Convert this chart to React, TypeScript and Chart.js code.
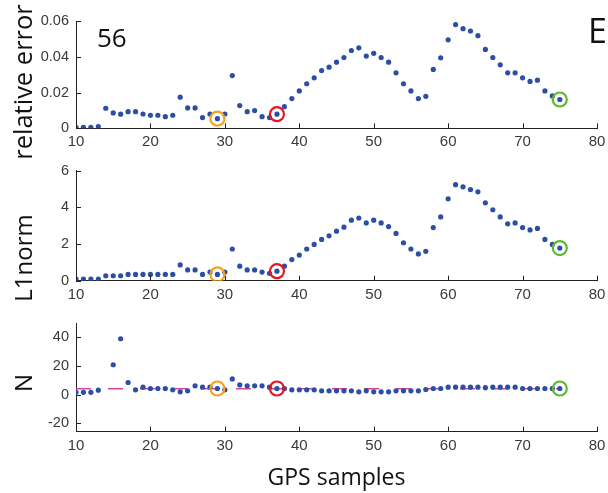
import React, { useEffect, useRef } from "react";
import { Chart, registerables } from "chart.js";
Chart.register(...registerables);

// ---------- data ----------
const samples = [
  10, 11, 12, 13, 14, 15, 16, 17, 18, 19, 20, 21, 22, 23, 24, 25, 26, 27, 28, 29, 30, 31, 32,
  33, 34, 35, 36, 37, 38, 39, 40, 41, 42, 43, 44, 45, 46, 47, 48, 49, 50, 51, 52, 53, 54, 55,
  56, 57, 58, 59, 60, 61, 62, 63, 64, 65, 66, 67, 68, 69, 70, 71, 72, 73, 74, 75,
];

const relativeError = [
  0.0006, 0.0006, 0.0006, 0.001, 0.0112, 0.0086, 0.0079, 0.0093, 0.0093, 0.008, 0.0073,
  0.0073, 0.0065, 0.0073, 0.0174, 0.0114, 0.0114, 0.006, 0.008, 0.0054, 0.008, 0.0295,
  0.0127, 0.0093, 0.0099, 0.0065, 0.006, 0.0079, 0.0121, 0.0166, 0.0209, 0.0249, 0.0282,
  0.0323, 0.0342, 0.037, 0.0396, 0.0435, 0.045, 0.0404, 0.0419, 0.0396, 0.037, 0.031,
  0.0249, 0.0209, 0.0166, 0.0179, 0.0329, 0.0394, 0.0495, 0.058, 0.0557, 0.0544, 0.0518,
  0.0441, 0.0396, 0.0355, 0.031, 0.031, 0.0282, 0.0262, 0.0269, 0.0209, 0.0181, 0.0161,
];

const l1Norm = [
  0.09, 0.09, 0.09, 0.09, 0.27, 0.27, 0.27, 0.34, 0.34, 0.34, 0.34, 0.34, 0.34, 0.34, 0.86,
  0.59, 0.59, 0.34, 0.47, 0.34, 0.47, 1.73, 0.79, 0.59, 0.59, 0.47, 0.4, 0.52, 0.79, 1.15,
  1.4, 1.73, 1.98, 2.25, 2.45, 2.7, 2.92, 3.3, 3.42, 3.15, 3.3, 3.15, 2.95, 2.58, 2.07, 1.73,
  1.46, 1.6, 2.9, 3.48, 4.47, 5.24, 5.12, 4.97, 4.85, 4.25, 3.87, 3.48, 3.1, 3.15, 2.9, 2.77,
  2.85, 2.25, 1.98, 1.78,
];

const nValues: (number | null)[] = [
  1.5, 1.5, 1.5, 3, null, 20.8, 39, 8.4, 3.3, 5.1, 4.2, 4.2, 4.2, 3.3, 1.9, 2.6, 6.1, 5.1,
  5.1, 4.2, 3.3, 10.9, 6.7, 6.1, 6.1, 6.1, 5.1, 4.2, 4.2, 3.3, 3.3, 3.3, 3.3, 2.6, 2.6, 2.6,
  2.6, 2.6, 1.9, 2.6, 1.9, 1.9, 1.9, 2.6, 2.6, 2.6, 2.6, 3.5, 4.2, 4.2, 5.1, 5.1, 5.1, 5.1,
  5.1, 4.8, 5.1, 5.1, 5.1, 5.1, 4.2, 4.2, 4.2, 4.2, 4.2, 4.2,
];

const nReferenceLevel = 4;

const xTickValues = [10, 20, 30, 40, 50, 60, 70, 80];
const relErrTicks = [0, 0.02, 0.04, 0.06];
const l1Ticks = [0, 2, 4, 6];
const nTicks = [-20, 0, 20, 40];

const highlightSamples = [29, 37, 75];
const highlightColors = ["#f7a01c", "#e8141e", "#5cbb2d"];

// ---------- layout / style ----------
const W = 625;
const H = 493;
const AXIS_RIGHT = 597;
const Y_AXIS_W = 76;
const X_AXIS_H = 30;
const DOT = "#2c4fa6";
const TICK_FAMILY = "'Liberation Sans', Arial, Helvetica, sans-serif";
const TEXT_FAMILY = "'Open Sans', 'Noto Sans', sans-serif";

type Txt = {
  text: string;
  x: number | "center";
  y: number;
  size: number;
  rotate?: boolean;
  align?: CanvasTextAlign;
};

type PanelSpec = {
  series: (number | null)[];
  yMin: number;
  yMax: number;
  yTicks: number[];
  top: number;
  bottom: number;
  texts: Txt[];
  ref?: number;
};

const panels: PanelSpec[] = [
  {
    series: relativeError,
    yMin: 0,
    yMax: 0.06,
    yTicks: relErrTicks,
    top: 21,
    bottom: 128.3,
    texts: [
      { text: "relative error", x: 32, y: 82, size: 25.5, rotate: true },
      { text: "56", x: 97, y: 47, size: 26, align: "left" },
      { text: "E", x: 588, y: 43, size: 34, align: "left" },
    ],
  },
  {
    series: l1Norm,
    yMin: 0,
    yMax: 6,
    yTicks: l1Ticks,
    top: 170.7,
    bottom: 280.7,
    texts: [{ text: "L1norm", x: 32, y: 258, size: 24, rotate: true }],
  },
  {
    series: nValues,
    yMin: -26,
    yMax: 50,
    yTicks: nTicks,
    top: 323,
    bottom: 431.7,
    ref: nReferenceLevel,
    texts: [
      { text: "N", x: 32, y: 383, size: 24, rotate: true },
      { text: "GPS samples", x: "center", y: 485, size: 23 },
    ],
  },
];

const decorPlugin = {
  id: "decor",
  afterDraw(chart: any, _args: any, opts: any) {
    const { ctx, chartArea: a, scales } = chart;
    ctx.save();
    ctx.strokeStyle = "#222";
    ctx.lineWidth = 1;
    ctx.beginPath();
    for (const v of xTickValues) {
      const px = Math.round(scales.x.getPixelForValue(v)) + 0.5;
      ctx.moveTo(px, a.bottom);
      ctx.lineTo(px, a.bottom - 5);
    }
    for (const v of opts.yTicks as number[]) {
      const py = Math.round(scales.y.getPixelForValue(v)) + 0.5;
      ctx.moveTo(a.left, py);
      ctx.lineTo(a.left + 5, py);
    }
    ctx.stroke();
    ctx.fillStyle = "#111";
    for (const t of opts.texts as Txt[]) {
      ctx.font = `${t.size}px ${TEXT_FAMILY}`;
      ctx.textBaseline = "alphabetic";
      const x = t.x === "center" ? (a.left + a.right) / 2 : t.x;
      if (t.rotate) {
        ctx.save();
        ctx.translate(x, t.y);
        ctx.rotate(-Math.PI / 2);
        ctx.textAlign = "center";
        ctx.fillText(t.text, 0, 0);
        ctx.restore();
      } else {
        ctx.textAlign = t.align || "center";
        ctx.fillText(t.text, x, t.y);
      }
    }
    ctx.restore();
  },
};

function buildChart(canvas: HTMLCanvasElement, p: PanelSpec) {
  const pts = samples.map((s, i) => ({ x: s, y: p.series[i] }));
  const hl = highlightSamples.map((s) => ({ x: s, y: p.series[samples.indexOf(s)] }));
  const datasets: any[] = [
    {
      data: hl,
      showLine: false,
      pointRadius: 7,
      pointBorderWidth: 2.2,
      pointBackgroundColor: "rgba(0,0,0,0)",
      pointBorderColor: highlightColors,
    },
    {
      data: pts,
      showLine: false,
      pointRadius: 2.6,
      pointBorderWidth: 0,
      pointBackgroundColor: DOT,
      pointBorderColor: DOT,
    },
  ];
  if (p.ref !== undefined) {
    datasets.push({
      type: "line",
      data: [
        { x: samples[0], y: p.ref },
        { x: samples[samples.length - 1], y: p.ref },
      ],
      showLine: true,
      borderColor: "#d6449c",
      borderWidth: 1.5,
      borderDash: [15, 17],
      pointRadius: 0,
      fill: false,
    });
  }
  return new Chart(canvas, {
    type: "scatter",
    data: { datasets },
    plugins: [decorPlugin],
    options: {
      responsive: false,
      animation: false,
      events: [],
      layout: {
        padding: { left: 0, right: W - AXIS_RIGHT, top: p.top, bottom: H - p.bottom - X_AXIS_H },
      },
      plugins: {
        legend: { display: false },
        tooltip: { enabled: false },
        decor: { yTicks: p.yTicks, texts: p.texts },
      } as any,
      scales: {
        x: {
          type: "linear",
          min: 10,
          max: 80,
          grid: { display: false, drawTicks: false },
          border: { display: true, color: "#222", width: 1 },
          ticks: {
            font: { family: TICK_FAMILY, size: 15 },
            color: "#3a3a3a",
            padding: 5,
            maxRotation: 0,
            callback: (v: any) => String(v),
          },
          afterBuildTicks: (s: any) => {
            s.ticks = xTickValues.map((v) => ({ value: v }));
          },
          afterFit: (s: any) => {
            s.height = X_AXIS_H;
          },
        },
        y: {
          type: "linear",
          min: p.yMin,
          max: p.yMax,
          grid: { display: false, drawTicks: false },
          border: { display: true, color: "#222", width: 1 },
          ticks: {
            font: { family: TICK_FAMILY, size: 14.5 },
            color: "#3a3a3a",
            padding: 7,
            callback: (v: any) => String(v),
          },
          afterBuildTicks: (s: any) => {
            s.ticks = p.yTicks.map((v) => ({ value: v }));
          },
          afterFit: (s: any) => {
            s.width = Y_AXIS_W;
          },
        },
      },
    } as any,
  });
}

export default function App() {
  const r1 = useRef<HTMLCanvasElement>(null);
  const r2 = useRef<HTMLCanvasElement>(null);
  const r3 = useRef<HTMLCanvasElement>(null);

  useEffect(() => {
    const refs = [r1, r2, r3];
    const charts = panels.map((p, i) => buildChart(refs[i].current as HTMLCanvasElement, p));
    return () => charts.forEach((c) => c.destroy());
  }, []);

  const cstyle: React.CSSProperties = { position: "absolute", left: 0, top: 0 };
  return (
    <div
      style={{
        position: "absolute",
        left: 0,
        top: 0,
        width: 608,
        height: H,
        overflow: "hidden",
        background: "#fff",
      }}
    >
      <canvas ref={r1} width={W} height={H} style={cstyle} />
      <canvas ref={r2} width={W} height={H} style={cstyle} />
      <canvas ref={r3} width={W} height={H} style={cstyle} />
    </div>
  );
}
